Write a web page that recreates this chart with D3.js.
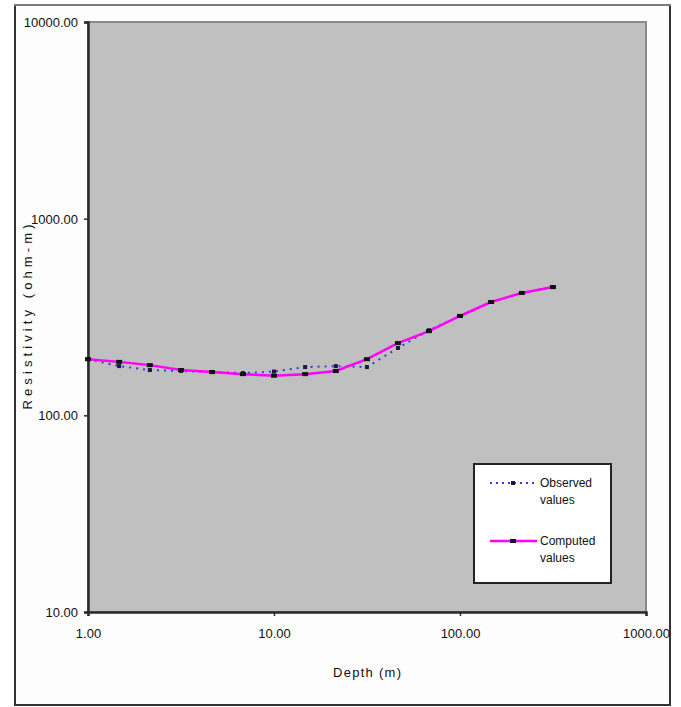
<html>
<head>
<script src="https://d3js.org/d3.v7.min.js"></script>
<style>
  body { margin: 0; background: #fff; }
  text { font-family: "Liberation Sans Narrow", "Arial Narrow", "Liberation Sans", Arial, sans-serif; fill: #111; }
</style>
</head>
<body>
<div id="chart"></div>
<script>

// depth points (m), 6 per decade
var depth = [1.00, 1.47, 2.15, 3.16, 4.64, 6.81, 10.0, 14.7, 21.5, 31.6, 46.4, 68.1, 100, 147, 215, 316];
// apparent resistivity (ohm-m)
var observed = [193, 178, 170, 168, 166, 164, 167, 176, 178, 176, 220, 271, 320, 377, 419, 449];
var computed = [193, 187, 180, 170, 166, 162, 159, 162, 168, 193, 233, 268, 320, 377, 419, 449];

var xTicks = [1, 10, 100, 1000];
var yTicks = [10, 100, 1000, 10000];
var seriesNames = ["Observed values", "Computed values"];

var W = 681, H = 707;
var margin = {top: 22, right: 35, bottom: 95, left: 88},
    width = 646 - margin.left,
    height = 612 - margin.top;

var svg = d3.select("#chart").append("svg")
    .attr("width", W)
    .attr("height", H);

// outer chart frame
svg.append("rect")
    .attr("x", 15).attr("y", 5)
    .attr("width", 655).attr("height", 700)
    .attr("fill", "#fdfdfd")
    .attr("stroke", "#333")
    .attr("stroke-width", 2);
svg.append("line")
    .attr("x1", 14).attr("x2", 671).attr("y1", 5).attr("y2", 5)
    .attr("stroke", "#7a7a7a").attr("stroke-width", 2);

var g = svg.append("g")
    .attr("transform", "translate(" + margin.left + "," + margin.top + ")");

var x = d3.scaleLog().domain([1, 1000]).range([0, width]);
var y = d3.scaleLog().domain([10, 10000]).range([height, 0]);

// plot area
g.append("rect")
    .attr("width", width).attr("height", height)
    .attr("fill", "#c0c0c0")
    .attr("stroke", "#8a8a8a")
    .attr("stroke-width", 2);

// axes
var fmt = d3.format(".2f");
var yAxis = g.append("g")
    .call(d3.axisLeft(y).tickValues(yTicks).tickFormat(fmt).tickSize(4).tickPadding(6));
var xAxis = g.append("g")
    .attr("transform", "translate(0," + height + ")")
    .call(d3.axisBottom(x).tickValues(xTicks).tickFormat(fmt).tickSize(4).tickPadding(13));

[yAxis, xAxis].forEach(function(a) {
    a.select(".domain").attr("stroke", "#2a2a2a").attr("stroke-width", 2.5);
    a.selectAll(".tick line").attr("stroke", "#2a2a2a").attr("stroke-width", 1.5);
    a.selectAll("text").style("font-size", "13px").attr("fill", "#111");
});
yAxis.selectAll("text").attr("dy", "0.35em");

// axis titles
svg.append("text")
    .attr("transform", "translate(32," + (margin.top + height / 2) + ") rotate(-90)")
    .attr("text-anchor", "middle")
    .style("font-size", "13px")
    .attr("textLength", 185)
    .attr("lengthAdjust", "spacing")
    .text("Resistivity (ohm-m)");

svg.append("text")
    .attr("x", margin.left + width / 2)
    .attr("y", 677)
    .attr("text-anchor", "middle")
    .style("font-size", "13px")
    .attr("textLength", 68)
    .attr("lengthAdjust", "spacing")
    .text("Depth (m)");

// lines
var line = d3.line()
    .x(function(d) { return x(d[0]); })
    .y(function(d) { return y(d[1]); });

var obsData = depth.map(function(d, i) { return [d, observed[i]]; });
var compData = depth.map(function(d, i) { return [d, computed[i]]; });

g.append("path")
    .datum(obsData)
    .attr("d", line)
    .attr("fill", "none")
    .attr("stroke", "#3a3ad0")
    .attr("stroke-width", 2)
    .attr("stroke-dasharray", "2,5");

g.append("path")
    .datum(compData)
    .attr("d", line)
    .attr("fill", "none")
    .attr("stroke", "#ff00ff")
    .attr("stroke-width", 2.5);

g.selectAll(".obs")
    .data(obsData)
    .enter().append("rect")
    .attr("x", function(d) { return x(d[0]) - 2; })
    .attr("y", function(d) { return y(d[1]) - 2; })
    .attr("width", 4).attr("height", 4)
    .attr("fill", "#1a1a40");

g.selectAll(".comp")
    .data(compData)
    .enter().append("rect")
    .attr("x", function(d) { return x(d[0]) - 3; })
    .attr("y", function(d) { return y(d[1]) - 2; })
    .attr("width", 6).attr("height", 4)
    .attr("fill", "#111");

// legend
var leg = svg.append("g").attr("transform", "translate(474,464)");
leg.append("rect")
    .attr("width", 137).attr("height", 119)
    .attr("fill", "#fff")
    .attr("stroke", "#222")
    .attr("stroke-width", 2);

leg.append("line")
    .attr("x1", 16).attr("x2", 63).attr("y1", 19).attr("y2", 19)
    .attr("stroke", "#3a3ad0").attr("stroke-width", 2)
    .attr("stroke-dasharray", "2,4");
leg.append("rect").attr("x", 37).attr("y", 17).attr("width", 4).attr("height", 4).attr("fill", "#1a1a40");

leg.append("line")
    .attr("x1", 16).attr("x2", 63).attr("y1", 77).attr("y2", 77)
    .attr("stroke", "#ff00ff").attr("stroke-width", 2.5);
leg.append("rect").attr("x", 36).attr("y", 75).attr("width", 6).attr("height", 4).attr("fill", "#111");

[[19, seriesNames[0]], [77, seriesNames[1]]].forEach(function(e) {
    var words = e[1].split(" ");
    var t = leg.append("text")
        .attr("x", 66).attr("y", e[0])
        .attr("dy", "0.35em")
        .style("font-size", "12px");
    t.append("tspan").attr("x", 66).text(words[0]);
    t.append("tspan").attr("x", 66).attr("dy", "17").text(words[1]);
});

</script>
</body>
</html>
